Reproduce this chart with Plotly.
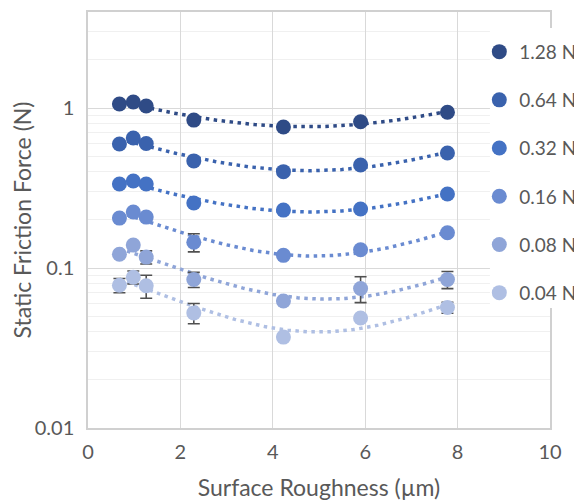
import numpy as np
import plotly.graph_objects as go

# Data
roughness = [0.68, 0.98, 1.26, 2.29, 4.23, 5.90, 7.78]
loads = ["1.28 N", "0.64 N", "0.32 N", "0.16 N", "0.08 N", "0.04 N"]

f_128 = [1.06, 1.09, 1.03, 0.84, 0.76, 0.82, 0.94]
f_064 = [0.596, 0.65, 0.60, 0.467, 0.40, 0.44, 0.523]
f_032 = [0.335, 0.35, 0.335, 0.255, 0.23, 0.234, 0.29]
f_016 = [0.205, 0.224, 0.208, 0.145, 0.12, 0.13, 0.166]
f_008 = [0.122, 0.139, 0.117, 0.0847, 0.0622, 0.0745, 0.0847]
f_004 = [0.078, 0.0876, 0.0774, 0.0524, 0.037, 0.0487, 0.0566]

e_128 = [0.02, 0.02, 0.02, 0.02, 0.02, 0.02, 0.02]
e_064 = [0.012, 0.012, 0.012, 0.01, 0.008, 0.009, 0.01]
e_032 = [0.007, 0.007, 0.007, 0.006, 0.005, 0.005, 0.006]
e_016 = [0.004, 0.004, 0.004, 0.0188, 0.003, 0.003, 0.004]
e_008 = [0.003, 0.003, 0.011, 0.0092, 0.002, 0.0137, 0.0104]
e_004 = [0.0079, 0.0082, 0.0127, 0.0076, 0.001, 0.0015, 0.0045]

series = [f_128, f_064, f_032, f_016, f_008, f_004]
errors = [e_128, e_064, e_032, e_016, e_008, e_004]
colors = ["#2F4B86", "#3A62AD", "#4472C4", "#6A8BD1", "#8FA5D8", "#AFBFE3"]

TXT = "#595959"
FONT = "Lato"

fig = go.Figure()

xfit = np.linspace(min(roughness), max(roughness), 200)
for name, ys, es, col in zip(loads, series, errors, colors):
    coef = np.polyfit(roughness, ys, 2)
    fig.add_trace(go.Scatter(
        x=xfit, y=np.polyval(coef, xfit), mode="lines",
        line=dict(color=col, width=3.5, dash="3.5px,4.5px"),
        showlegend=False, hoverinfo="skip", legendgroup=name))
for name, ys, es, col in zip(loads, series, errors, colors):
    fig.add_trace(go.Scatter(
        x=roughness, y=ys, mode="markers", name=name, legendgroup=name,
        marker=dict(color=col, size=15),
        error_y=dict(type="data", array=es, color="#505050", thickness=1.6, width=6)))

fig.add_shape(type="rect", xref="paper", yref="paper",
              x0=0.870, x1=1.08, y0=0.2885, y1=0.9615,
              fillcolor="white", line=dict(width=0), layer="above")

fig.update_layout(
    width=574, height=494,
    margin=dict(l=80, r=32, t=4, b=74, autoexpand=False),
    paper_bgcolor="white", plot_bgcolor="white",
    font=dict(family=FONT, size=20, color=TXT),
    legend=dict(x=0.847, xanchor="left", y=0.950, yanchor="top",
                bgcolor="rgba(0,0,0,0)", traceorder="grouped",
                tracegroupgap=20.5, font=dict(size=19, color=TXT)),
    xaxis=dict(range=[0, 10], dtick=2, tick0=0, showgrid=True,
               gridcolor="#d9d9d9", gridwidth=1.3, zeroline=False,
               showline=True, linecolor="#d0d0d0", linewidth=1.5, mirror=True,
               ticks="", tickfont=dict(size=20, color=TXT), ticklabelstandoff=5,
               title=dict(text="Surface Roughness (µm)", standoff=18,
                          font=dict(size=23, color=TXT))),
    yaxis=dict(type="log", range=[-2, 0.6],
               tickvals=[0.01, 0.1, 1], ticktext=["0.01", "0.1", "1"],
               showgrid=True, gridcolor="#d9d9d9", gridwidth=1.3, zeroline=False,
               showline=True, linecolor="#d0d0d0", linewidth=1.5, mirror=True,
               ticks="", tickfont=dict(size=20, color=TXT), ticklabelstandoff=8,
               minor=dict(dtick="D1", showgrid=True, gridcolor="#f0f0f0", gridwidth=1.3),
               title=dict(text="Static Friction Force (N)", standoff=4,
                          font=dict(size=23, color=TXT))),
)

fig.write_html("out.html")
